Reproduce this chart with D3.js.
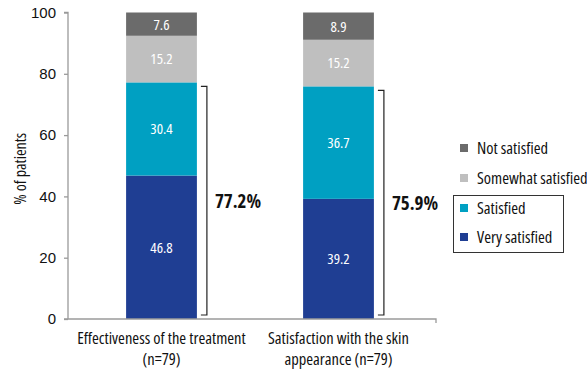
<!DOCTYPE html>
<html>
<head>
<meta charset="utf-8">
<script src="https://cdn.jsdelivr.net/npm/d3@7"></script>
<style>
  html, body { margin: 0; padding: 0; background: #fff; }
  svg { display: block; font-family: "Open Sans", sans-serif; font-stretch: condensed; }
</style>
</head>
<body>
<svg id="chart" width="587" height="371"></svg>
<script>
// Response categories, bottom to top of each stack
const levels = ["Very satisfied", "Satisfied", "Somewhat satisfied", "Not satisfied"];
const levelColors = ["#1f3e93", "#00a0c2", "#bfbfbf", "#6b6b6b"];

// Questions (two lines each under the axis)
const questions = [
  ["Effectiveness of the treatment", "(n=79)"],
  ["Satisfaction with the skin", "appearance (n=79)"]
];

// Percent of patients per level, one array per question
const effectiveness = [46.8, 30.4, 15.2, 7.6];
const skinAppearance = [39.2, 36.7, 15.2, 8.9];
const seriesValues = [effectiveness, skinAppearance];

// Combined "satisfied or very satisfied" totals shown beside each bar
const satisfiedTotals = ["77.2%", "75.9%"];

const yTicks = [0, 20, 40, 60, 80, 100];

const svg = d3.select("#chart");

const x0 = 68, x1 = 436, yTop = 12.5, yBot = 319;
const x = d3.scaleBand().domain([0, 1]).range([73, 427]).paddingInner(0.6).paddingOuter(0.3);
const y = d3.scaleLinear().domain([0, 100]).range([yBot, yTop]);

// Y axis
const yAxis = svg.append("g")
  .attr("transform", `translate(${x0},0)`)
  .call(d3.axisLeft(y).tickValues(yTicks).tickSize(4).tickPadding(8).tickFormat(d3.format("d")));
yAxis.select(".domain").attr("stroke", "#9a9a9a").attr("stroke-width", 1.3).attr("d", `M-4,${yTop}H0V${yBot}`);
yAxis.selectAll(".tick line").attr("stroke", "#9a9a9a").attr("stroke-width", 1.3);
yAxis.selectAll(".tick text").attr("font-size", 15).attr("fill", "#111").style("font-family", "inherit");

svg.append("text")
  .attr("transform", `translate(20,${(yTop + yBot) / 2 + 3}) rotate(-90)`)
  .attr("text-anchor", "middle")
  .attr("dy", "0.36em")
  .attr("font-size", 16)
  .attr("fill", "#111")
  .text("% of patients");

// Stacked bars
const bw = x.bandwidth();
seriesValues.forEach((vals, qi) => {
  let base = 0;
  const g = svg.append("g");
  vals.forEach((v, li) => {
    const top = base + v;
    g.append("rect")
      .attr("x", x(qi))
      .attr("width", bw)
      .attr("y", y(top))
      .attr("height", y(base) - y(top))
      .attr("fill", levelColors[li]);
    g.append("text")
      .attr("x", x(qi) + bw / 2)
      .attr("y", y(base + v / 2))
      .attr("dy", "0.36em")
      .attr("text-anchor", "middle")
      .attr("font-size", 15)
      .attr("fill", "#fff")
      .text(v.toFixed(1));
    base = top;
  });

  // Bracket spanning the two satisfied levels
  const sat = vals[0] + vals[1];
  const bx = x(qi) + bw + 10;
  const bTop = y(sat) + 4, bBottom = yBot - 4;
  svg.append("path")
    .attr("d", `M${bx - 6},${bTop}H${bx}V${bBottom}H${bx - 6}`)
    .attr("fill", "none")
    .attr("stroke", "#222")
    .attr("stroke-width", 1.2);
  svg.append("text")
    .attr("x", bx + 8)
    .attr("y", (bTop + bBottom) / 2)
    .attr("dy", "0.36em")
    .attr("font-size", 19)
    .attr("font-weight", "bold")
    .attr("fill", "#111")
    .text(satisfiedTotals[qi]);
});

// X axis baseline with end ticks
svg.append("path")
  .attr("d", `M${x0 - 4},${yBot}H${x1}V${yBot + 4}`)
  .attr("fill", "none")
  .attr("stroke", "#9a9a9a")
  .attr("stroke-width", 1.3);

// Question labels
questions.forEach((lines, qi) => {
  const t = svg.append("text")
    .attr("text-anchor", "middle")
    .attr("font-size", 16.5)
    .attr("fill", "#111");
  lines.forEach((ln, i) => {
    t.append("tspan")
      .attr("x", x(qi) + bw / 2)
      .attr("y", 344 + i * 21)
      .text(ln);
  });
});

// Legend, top level first
const legendY = [148, 178, 208, 237];
const legend = svg.append("g");
legend.append("rect")
  .attr("x", 453.5).attr("y", 195.5)
  .attr("width", 110).attr("height", 57)
  .attr("fill", "none").attr("stroke", "#333").attr("stroke-width", 1);
levels.slice().reverse().forEach((name, i) => {
  const li = levels.length - 1 - i;
  legend.append("rect")
    .attr("x", 460).attr("y", legendY[i] - 4)
    .attr("width", 8).attr("height", 8)
    .attr("fill", levelColors[li]);
  legend.append("text")
    .attr("x", 477).attr("y", legendY[i])
    .attr("dy", "0.36em")
    .attr("font-size", 16.5)
    .attr("fill", "#111")
    .text(name);
});
</script>
</body>
</html>
